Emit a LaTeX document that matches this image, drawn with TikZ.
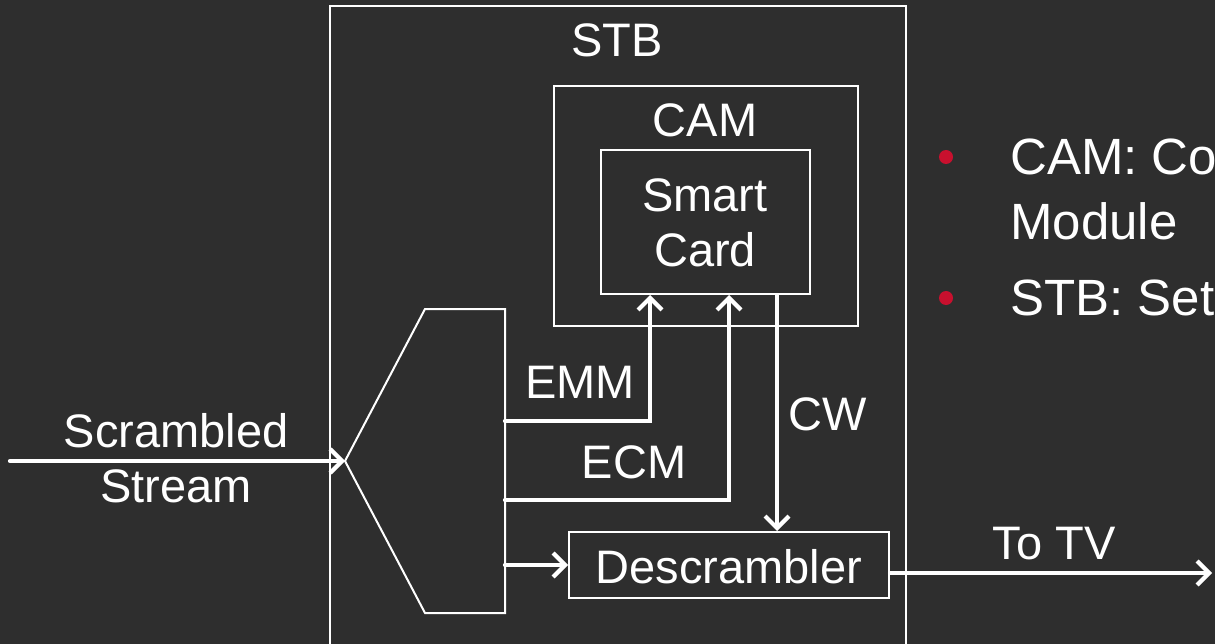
\documentclass[tikz,border=0pt]{standalone}
\usepackage{fontspec}
\setmainfont{Liberation Sans}
\usetikzlibrary{arrows.meta,positioning,calc}
\definecolor{bgdark}{RGB}{46,46,46}
\definecolor{bulletred}{RGB}{200,16,46}

\begin{document}
\begin{tikzpicture}[
  x=1pt, y=-1pt,
  font=\fontsize{47}{56}\selectfont,
  every node/.style={text=white, inner sep=0pt},
  frame/.style={draw=white, line width=2pt, rectangle, anchor=north west},
  lbl/.style={anchor=base},
  bul/.style={anchor=base west, font=\fontsize{51}{60}\selectfont},
  dot/.style={circle, fill=bulletred, minimum size=14pt},
  arr/.style={draw=white, line width=4.2pt, line cap=round, -{Straight Barb[length=12pt, width=24pt]}}
]

% page and background
\path[use as bounding box, fill=bgdark] (0,0) rectangle (1215,644);
\clip (0,0) rectangle (1215,644);

% STB box (runs off the bottom)
\node[frame, minimum width=576pt, minimum height=700pt] (stb) at (329,5) {};
\node[lbl] (stblbl) at (617,57) {STB};

% CAM with the smart card inside
\node[frame, minimum width=304pt, minimum height=240pt] (cam) at (553,85) {};
\node[lbl] (camlbl) at (705,137) {CAM};
\node[frame, minimum width=209pt, minimum height=144pt] (card) at (600,149) {};
\node[lbl] (smartlbl) at (705,212) {Smart};
\node[lbl] (cardlbl) at (705,267) {Card};

% demultiplexer
\coordinate (dmxin) at (345,461);
\draw[white, line width=2pt] (dmxin) -- (425,309) -- (505,309) -- (505,613) -- (425,613) -- cycle;
\coordinate (dmxemm) at (505,421);
\coordinate (dmxecm) at (505,500);
\coordinate (dmxout) at (505,565);

% descrambler
\node[frame, anchor=center, minimum width=320pt, minimum height=66pt] (desc) at (729,565) {};
\node[lbl] (desclbl) at (729,583) {Descrambler};

% scrambled input
\coordinate (src) at (10,461);
\draw[arr] (src) -- (dmxin);
\node[lbl] (scrlbl) at (176,447) {Scrambled};
\node[lbl] (strlbl) at (176,502) {Stream};

% EMM and ECM up to the card, CW down to the descrambler
\draw[arr] (dmxemm) -| ([xshift=50pt]card.south west);
\node[lbl] (emmlbl) at (580,398) {EMM};
\draw[arr] (dmxecm) -| ([xshift=129pt]card.south west);
\node[lbl] (ecmlbl) at (634,478) {ECM};
\draw[arr] ([xshift=177pt]card.south west) -- ([xshift=48pt]desc.north);
\node[lbl] (cwlbl) at (828,430) {CW};
\draw[arr] (dmxout) -- (desc.west);

% output
\coordinate (tv) at (1212,573);
\draw[arr] ([yshift=-8pt]desc.east) -- (tv);
\node[lbl] (tvlbl) at (1054,559) {To TV};

% bullet notes (cut at the right edge)
\node[dot] (b1) at (946,157) {};
\node[bul] (b1txt) at (1010,175) {CAM: Co};
\node[bul] (b1more) at (1010,240) {Module};
\node[dot] (b2) at (946,298) {};
\node[bul] (b2txt) at (1010,315) {STB: Set};

\end{tikzpicture}
\end{document}
